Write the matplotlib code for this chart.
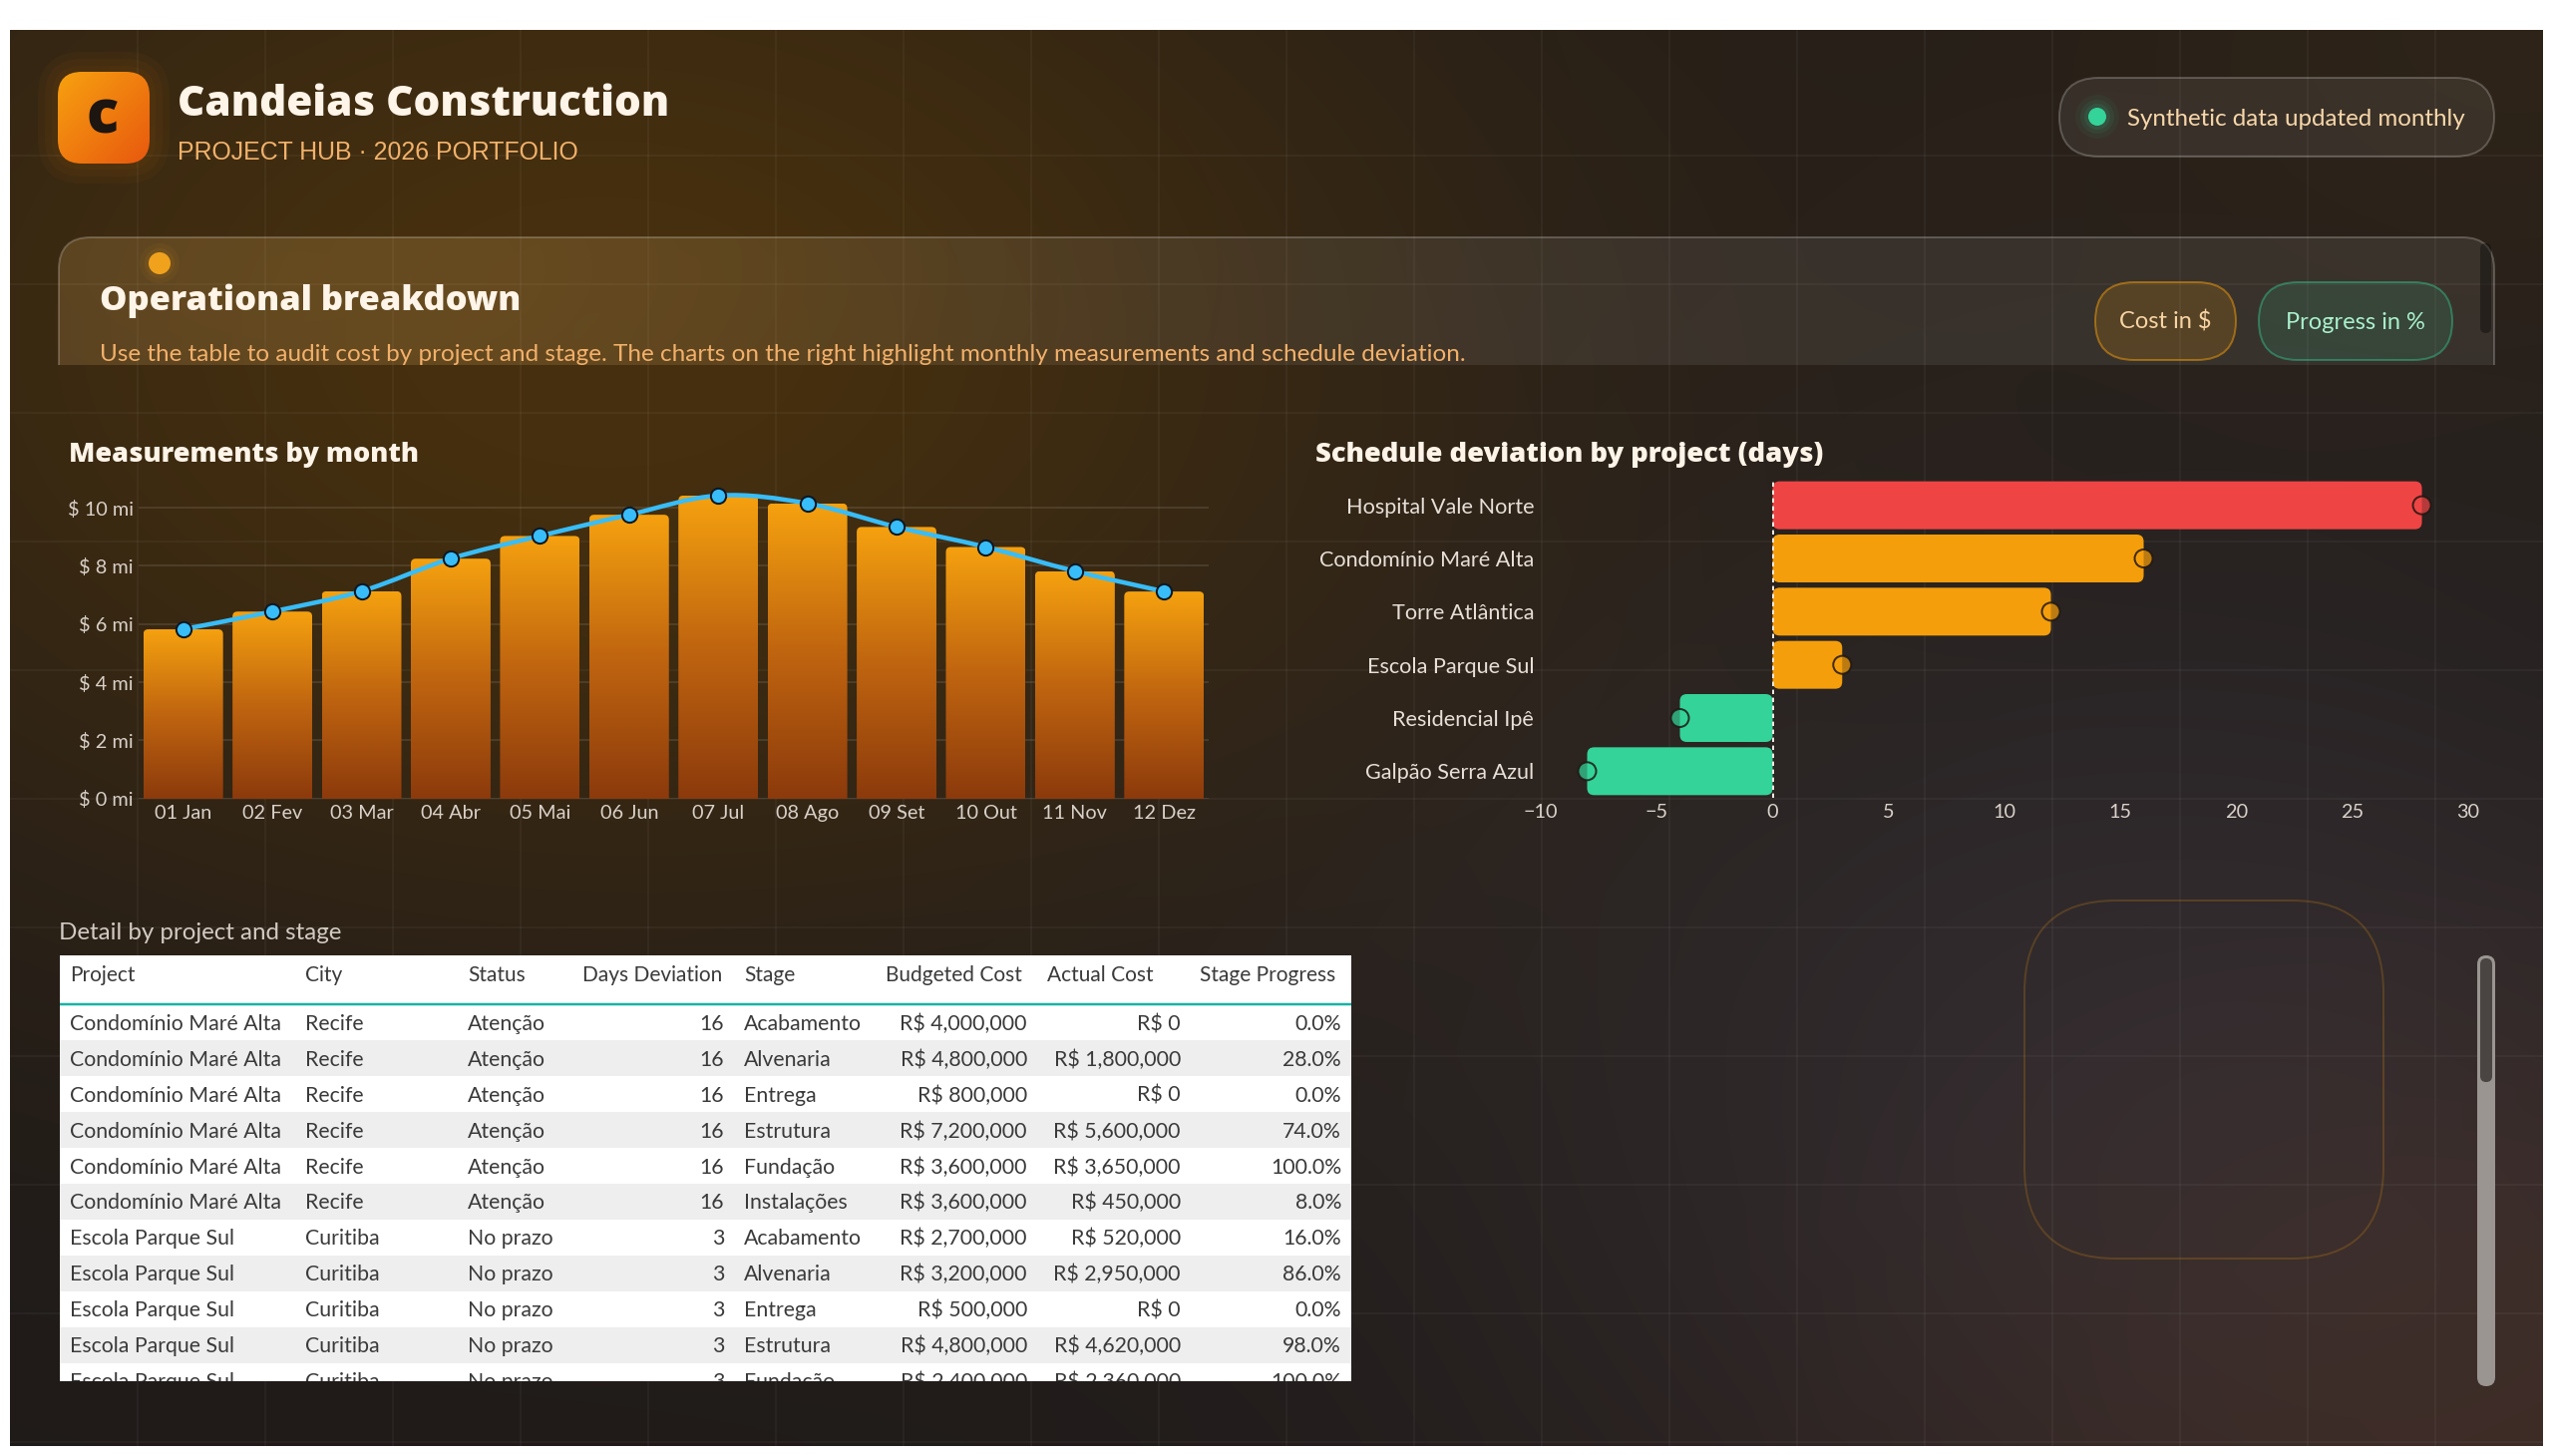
import numpy as np
import matplotlib
matplotlib.use("Agg")
import matplotlib.pyplot as plt
from matplotlib.patches import FancyBboxPatch, Rectangle, Circle, PathPatch
from matplotlib.path import Path
from matplotlib.colors import LinearSegmentedColormap, to_rgba

plt.rcParams['font.family'] = ['Lato', 'DejaVu Sans']
BOLD_FAM = ['Open Sans', 'Lato', 'DejaVu Sans']
TITLE_W = 800

# ---------------- data ----------------
months = ["01 Jan", "02 Fev", "03 Mar", "04 Abr", "05 Mai", "06 Jun",
          "07 Jul", "08 Ago", "09 Set", "10 Out", "11 Nov", "12 Dez"]
measurements_mi = [5.82, 6.43, 7.13, 8.25, 9.03, 9.76, 10.42, 10.15, 9.34, 8.65, 7.82, 7.12]
measure_ticks = [0, 2, 4, 6, 8, 10]
measure_tick_labels = ["$ 0 mi", "$ 2 mi", "$ 4 mi", "$ 6 mi", "$ 8 mi", "$ 10 mi"]

projects = ["Hospital Vale Norte", "Condomínio Maré Alta", "Torre Atlântica",
            "Escola Parque Sul", "Residencial Ipê", "Galpão Serra Azul"]
deviation_days = [28, 16, 12, 3, -4, -8]
deviation_ticks = [-10, -5, 0, 5, 10, 15, 20, 25, 30]
deviation_tick_labels = ["\u221210", "\u22125", "0", "5", "10", "15", "20", "25", "30"]

table_headers = ["Project", "City", "Status", "Days Deviation", "Stage",
                 "Budgeted Cost", "Actual Cost", "Stage Progress"]
tbl_project = ["Condomínio Maré Alta"] * 6 + ["Escola Parque Sul"] * 5
tbl_city = ["Recife"] * 6 + ["Curitiba"] * 5
tbl_status = ["Atenção"] * 6 + ["No prazo"] * 5
tbl_days = [16] * 6 + [3] * 5
tbl_stage = ["Acabamento", "Alvenaria", "Entrega", "Estrutura", "Fundação", "Instalações",
             "Acabamento", "Alvenaria", "Entrega", "Estrutura", "Fundação"]
tbl_budget = [4000000, 4800000, 800000, 7200000, 3600000, 3600000,
              2700000, 3200000, 500000, 4800000, 2400000]
tbl_actual = [0, 1800000, 0, 5600000, 3650000, 450000,
              520000, 2950000, 0, 4620000, 2360000]
tbl_progress = [0.0, 28.0, 0.0, 74.0, 100.0, 8.0, 16.0, 86.0, 0.0, 98.0, 100.0]

# ---------------- figure ----------------
W, H = 2560, 1460
fig = plt.figure(figsize=(W / 100, H / 100), dpi=100)
fig.patch.set_facecolor("white")
bg = fig.add_axes([0, 0, 1, 1])
bg.set_xlim(0, W)
bg.set_ylim(H, 0)
bg.axis("off")
bg.set_autoscale_on(False)


def px(v):
    return v * 0.72


def frac(x0, y0, x1, y1):
    return [x0 / W, 1 - y1 / H, (x1 - x0) / W, (y1 - y0) / H]


# background gradient
X0, X1, Y0, Y1 = 10, 2550, 30, 1450
nx, ny = 320, 180
XX, YY = np.meshgrid(np.linspace(X0, X1, nx), np.linspace(Y0, Y1, ny))


def blob(cx, cy, sx, sy, amp):
    g = np.exp(-0.5 * (((XX - cx) / sx) ** 2 + ((YY - cy) / sy) ** 2))
    return g[..., None] * np.array(amp, dtype=float)


img = np.zeros((ny, nx, 3)) + np.array([31, 27, 26], dtype=float)
img += blob(600, 330, 650, 430, [40, 21, -12])
img += blob(2560, 1460, 550, 380, [26, 12, 4])
img += blob(2150, 1050, 520, 380, [10, 12, 19])
img += blob(2560, 0, 420, 320, [14, 8, -2])
img = np.clip(img / 255.0, 0, 1)
bg.imshow(img, extent=(X0, X1, Y1, Y0), origin="upper", aspect="auto",
          interpolation="bicubic", zorder=0)

for gx in np.arange(X0 + 128, X1, 128):
    bg.plot([gx, gx], [Y0, Y1], color=(1, 1, 1, 0.05), lw=px(1.5), zorder=0.5)
for gy in np.arange(27 + 129, Y1, 129):
    bg.plot([X0, X1], [gy, gy], color=(1, 1, 1, 0.05), lw=px(1.5), zorder=0.5)

# ---------------- header ----------------
for i, a in enumerate([0.04, 0.04, 0.04]):
    g = 6 + i * 7
    bg.add_patch(FancyBboxPatch((58 - g, 72 - g), 92 + 2 * g, 92 + 2 * g,
                                boxstyle=f"round,pad=0,rounding_size={24 + g}",
                                fc=(0.96, 0.55, 0.05, a), ec="none", zorder=1))
logo = FancyBboxPatch((58, 72), 92, 92, boxstyle="round,pad=0,rounding_size=24",
                      fc="none", ec="none", zorder=2)
bg.add_patch(logo)
t = np.linspace(0, 1, 64)
TT = (t[None, :] + t[:, None]) / 2
c0 = np.array(to_rgba("#f7a110")[:3])
c1 = np.array(to_rgba("#e8580e")[:3])
grad = c0[None, None, :] * (1 - TT[..., None]) + c1[None, None, :] * TT[..., None]
im = bg.imshow(grad, extent=(58, 150, 164, 72), origin="upper", aspect="auto",
               interpolation="bilinear", zorder=2)
im.set_clip_path(logo)
bg.text(103, 134, "c", fontsize=43, fontweight=TITLE_W, family=BOLD_FAM, color="#1d1510",
        ha="center", va="baseline", zorder=3)

bg.text(178, 116, "Candeias Construction", fontsize=30.4, fontweight=TITLE_W, family=BOLD_FAM,
        color="#fff4e8", ha="left", va="baseline", zorder=3)
bg.text(178, 160, "PROJECT HUB · 2026 PORTFOLIO", fontsize=17.9,
        family=['Liberation Sans', 'Lato'],
        color="#f2b26b", ha="left", va="baseline", zorder=3)

# status badge
BX0, BX1 = 2065, 2501
bg.add_patch(FancyBboxPatch((BX0, 78), BX1 - BX0, 79, boxstyle="round,pad=0,rounding_size=39.5",
                            fc=(1, 1, 1, 0.07), ec=(1, 1, 1, 0.22), lw=px(2), zorder=2))
for r, a in [(22, 0.05), (17, 0.07), (13, 0.1)]:
    bg.add_patch(Circle((2103, 117), r, fc=(0.2, 0.83, 0.6, a), ec="none", zorder=2))
bg.add_patch(Circle((2103, 117), 9, fc="#34d399", ec="none", zorder=3))
bg.text(2133, 126, "Synthetic data updated monthly", fontsize=17.4, color="#f7d7aa",
        ha="left", va="baseline", zorder=3)

# ---------------- operational panel ----------------
PX1 = 2501
panel_clip = Rectangle((0, 0), W, 366, transform=bg.transData)
panel = FancyBboxPatch((59, 238), PX1 - 59, 260, boxstyle="round,pad=0,rounding_size=32",
                       fc=(1, 1, 1, 0.08), ec=(1, 1, 1, 0.22), lw=px(2), zorder=1)
bg.add_patch(panel)
panel.set_clip_path(panel_clip)
gx_, gy_ = np.meshgrid(np.linspace(59, PX1, 400), np.linspace(238, 366, 40))
ga = np.exp(-0.5 * (((gx_ - 300) / 420) ** 2 + ((gy_ - 270) / 200) ** 2)) * 0.13
glow = np.zeros(gx_.shape + (4,))
glow[..., 0] = 0.96
glow[..., 1] = 0.62
glow[..., 2] = 0.1
glow[..., 3] = ga
gim = bg.imshow(glow, extent=(59, PX1, 366, 238), origin="upper", aspect="auto",
                interpolation="bilinear", zorder=1.1)
gim.set_clip_path(panel)

for r, a in [(20, 0.05), (15, 0.08)]:
    bg.add_patch(Circle((160, 264), r, fc=(0.96, 0.62, 0.1, a), ec="none", zorder=2))
bg.add_patch(Circle((160, 264), 11, fc="#f0a21c", ec="none", zorder=3))
bg.text(100, 311, "Operational breakdown", fontsize=24.8, fontweight=TITLE_W, family=BOLD_FAM,
        color="#fff4e8", ha="left", va="baseline", zorder=3)
bg.text(100, 362, "Use the table to audit cost by project and stage. The charts on the right "
        "highlight monthly measurements and schedule deviation.", fontsize=17.5,
        color="#f2b06a", ha="left", va="baseline", zorder=3)
pscroll = FancyBboxPatch((2487, 244), 11, 90, boxstyle="round,pad=0,rounding_size=5.5",
                         fc=(0, 0, 0, 0.35), ec="none", zorder=2)
bg.add_patch(pscroll)

# pills
bg.add_patch(FancyBboxPatch((2101, 283), 141, 78, boxstyle="round,pad=0,rounding_size=39",
                            fc=(0.96, 0.62, 0.04, 0.16), ec=(0.96, 0.62, 0.04, 0.5),
                            lw=px(2), zorder=2))
bg.text(2171.5, 330, "Cost in $", fontsize=17, color="#f8d4a4", ha="center",
        va="baseline", zorder=3)
bg.add_patch(FancyBboxPatch((2265, 283), 194, 78, boxstyle="round,pad=0,rounding_size=39",
                            fc=(0.2, 0.83, 0.6, 0.12), ec=(0.2, 0.83, 0.6, 0.42),
                            lw=px(2), zorder=2))
bg.text(2362, 330, "Progress in %", fontsize=17, color="#a8f0cc", ha="center",
        va="baseline", zorder=3)

# ---------------- chart titles ----------------
bg.text(69, 463, "Measurements by month", fontsize=19.5, fontweight=TITLE_W, family=BOLD_FAM,
        color="#fff4e8", ha="left", va="baseline", zorder=3)
bg.text(1319, 463, "Schedule deviation by project (days)", fontsize=19.7, fontweight=TITLE_W,
        family=BOLD_FAM, color="#fff4e8", ha="left", va="baseline", zorder=3)

TICK_C = "#d9d1c9"

# ---------------- measurements chart ----------------
axm = fig.add_axes(frac(139, 480, 1212, 800.7))
axm.patch.set_alpha(0)
xi = np.arange(len(months))
axm.set_xlim(-0.5, len(months) - 0.5)
axm.set_ylim(0, 11)
axm.set_autoscale_on(False)
for s in axm.spines.values():
    s.set_visible(False)
axm.set_yticks(measure_ticks, measure_tick_labels)
axm.set_xticks(xi, months)
axm.tick_params(axis="both", length=0, labelsize=14.3, labelcolor=TICK_C)
axm.tick_params(axis="y", pad=3.6)
axm.tick_params(axis="x", pad=4.6)
for tk in measure_ticks:
    axm.axhline(tk, color=(1, 1, 1, 0.13), lw=px(1.5), zorder=0.5)

bars = axm.bar(xi, measurements_mi, width=0.894, color="none", edgecolor="none")
xu = 1073 / 12.0
yu = 320.7 / 11.0
rs = 5 / xu
ma = xu / yu
cmap_bar = LinearSegmentedColormap.from_list("barg", ["#8c3a0c", "#c06510", "#f5a10f"])
grad_v = np.linspace(0, 1, 256).reshape(-1, 1)
for b in bars:
    x0, w, h = b.get_x(), b.get_width(), b.get_height()
    ry = 5 / yu
    p = FancyBboxPatch((x0, -ry), w, h + ry, boxstyle=f"round,pad=0,rounding_size={rs}",
                       mutation_aspect=ma, fc="none", ec="none", zorder=2)
    axm.add_patch(p)
    gi = axm.imshow(grad_v, extent=(x0, x0 + w, 0, h), origin="lower", aspect="auto",
                    cmap=cmap_bar, vmin=0, vmax=1, interpolation="bilinear", zorder=2)
    gi.set_clip_path(p)

# smooth line through the points (Catmull-Rom drawn as cubic Bezier)
pts = np.column_stack([xi, measurements_mi]).astype(float)
ext = np.vstack([pts[0], pts, pts[-1]])
verts = [tuple(pts[0])]
codes = [Path.MOVETO]
for i in range(len(pts) - 1):
    p0, p1, p2, p3 = ext[i], ext[i + 1], ext[i + 2], ext[i + 3]
    verts += [tuple(p1 + (p2 - p0) / 6), tuple(p2 - (p3 - p1) / 6), tuple(p2)]
    codes += [Path.CURVE4] * 3
axm.add_patch(PathPatch(Path(verts, codes), fc="none", ec="#38bdf8", lw=px(4.5),
                        capstyle="round", joinstyle="round", zorder=3))
axm.plot(xi, measurements_mi, "o", ms=11, mfc="#38bdf8", mec="#0d1724", mew=px(2),
         zorder=4, clip_on=False)

# ---------------- deviation chart ----------------
axd = fig.add_axes(frac(1545, 480, 2498, 800))
axd.patch.set_alpha(0)
zero_px, unit_px = 1776.0, 23.3
axd.set_xlim((1545 - zero_px) / unit_px, (2498 - zero_px) / unit_px)
axd.set_ylim(len(projects) - 0.5, -0.5)
axd.set_autoscale_on(False)
for s in axd.spines.values():
    s.set_visible(False)
yi = np.arange(len(projects))
axd.set_yticks(yi, projects)
axd.set_xticks(deviation_ticks, deviation_tick_labels)
axd.tick_params(axis="both", length=0, labelsize=14.3, labelcolor=TICK_C)
axd.tick_params(axis="y", pad=4.8, labelsize=15.6, labelcolor="#e8e0d8")
axd.tick_params(axis="x", pad=4.6)


def dev_color(d):
    if d > 20:
        return "#ef4444"
    if d > 0:
        return "#f59e0b"
    return "#34d399"


cols = [dev_color(d) for d in deviation_days]
hb = axd.barh(yi, deviation_days, height=0.9, color="none", edgecolor="none")
bar_yu = 320 / 6.0
rsd = 7 / unit_px
mad = unit_px / bar_yu
for b, c in zip(hb, cols):
    x0 = min(b.get_x(), b.get_x() + b.get_width())
    w = abs(b.get_width())
    y0 = min(b.get_y(), b.get_y() + b.get_height())
    hh = abs(b.get_height())
    axd.add_patch(FancyBboxPatch((x0, y0), w, hh, boxstyle=f"round,pad=0,rounding_size={rsd}",
                                 mutation_aspect=mad, fc=c, ec="none", zorder=2))
axd.scatter(deviation_days, yi, s=px(18) ** 2, c=[to_rgba(c, 0.72) for c in cols],
            edgecolors=[(0.12, 0.09, 0.07, 0.85)], linewidths=px(2), zorder=3, clip_on=False)
axd.axvline(0, color="#efe7df", lw=px(2), ls=(0, (2.2, 1.8)), zorder=5)

# ---------------- table ----------------
bg.text(59, 942, "Detail by project and stage", fontsize=17.4, color="#d2cbc4",
        ha="left", va="baseline", zorder=3)
TX0, TX1, TY0, TY1 = 60, 1355, 958, 1385
tclip = Rectangle((TX0, TY0), TX1 - TX0, TY1 - TY0, transform=bg.transData)
bg.add_patch(Rectangle((TX0, TY0), TX1 - TX0, TY1 - TY0, fc="white", ec="none", zorder=3))
col_left = [70, 306, 469, 584, 746, 888, 1050, 1203]
col_right = [None, None, None, 726, None, 1030, 1184, 1345]
TXT_C = "#3a3a3a"
for hdr, xl in zip(table_headers, col_left):
    bg.text(xl, 984, hdr, fontsize=15, color=TXT_C, ha="left", va="baseline", zorder=5)
bg.plot([TX0, TX1], [1007, 1007], color="#17b3a5", lw=px(2.5), zorder=5,
        solid_capstyle="butt")
row_h = 35.9
first_c = 1025.5
for i in range(len(tbl_project)):
    cy = first_c + i * row_h
    if i % 2 == 1:
        rr = Rectangle((TX0, cy - row_h / 2), TX1 - TX0, row_h, fc="#eeeeee", ec="none",
                       zorder=4)
        bg.add_patch(rr)
        rr.set_clip_path(tclip)
    vals = [tbl_project[i], tbl_city[i], tbl_status[i], f"{tbl_days[i]}", tbl_stage[i],
            f"R$ {tbl_budget[i]:,.0f}", f"R$ {tbl_actual[i]:,.0f}", f"{tbl_progress[i]:.1f}%"]
    for j, v in enumerate(vals):
        if col_right[j] is None:
            tx = bg.text(col_left[j], cy + 7.5, v, fontsize=15.3, color=TXT_C, ha="left",
                         va="baseline", zorder=5, clip_on=True)
        else:
            tx = bg.text(col_right[j], cy + 7.5, v, fontsize=15.3, color=TXT_C, ha="right",
                         va="baseline", zorder=5, clip_on=True)
        tx.set_clip_path(tclip)

# ---------------- decorative right side ----------------
bg.add_patch(FancyBboxPatch((2030, 903), 360, 359, boxstyle="round,pad=0,rounding_size=92",
                            fc="none", ec=(0.96, 0.62, 0.04, 0.2), lw=px(2), zorder=2))
bg.add_patch(FancyBboxPatch((2484, 958), 18, 432, boxstyle="round,pad=0,rounding_size=9",
                            fc="#9a9591", ec="none", zorder=2))
bg.add_patch(FancyBboxPatch((2487, 961), 12, 124, boxstyle="round,pad=0,rounding_size=6",
                            fc="#4a4543", ec="none", zorder=3))

fig.savefig("out.png", dpi=100, facecolor=fig.get_facecolor())
